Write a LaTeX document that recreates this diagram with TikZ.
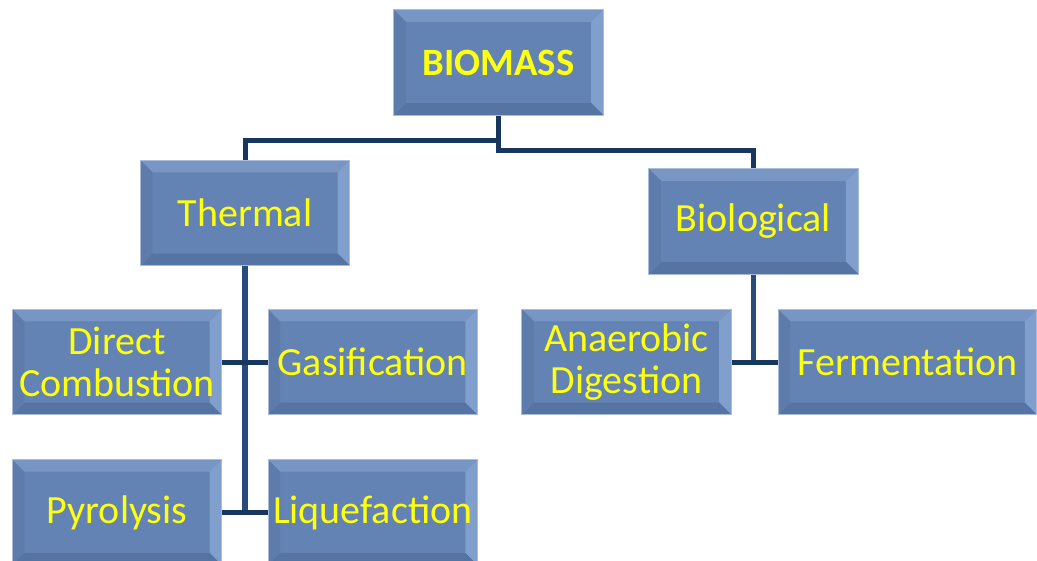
\documentclass[tikz,border=0pt]{standalone}
\usepackage{fontspec}
\setmainfont{Carlito}
\usepackage{tikz}
\usetikzlibrary{positioning}
\definecolor{tilefill}{HTML}{6283B3}
\definecolor{tiletop}{HTML}{7896C4}
\definecolor{tileright}{HTML}{819FCC}
\definecolor{tilebottom}{HTML}{5674A3}
\definecolor{tileleft}{HTML}{5D7CAB}
\definecolor{tileedge}{HTML}{A9BDDA}
\definecolor{labelyellow}{HTML}{FFFF10}
\definecolor{trunkblue}{HTML}{17375E}
\definecolor{branchblue}{HTML}{284B7D}

\begin{document}
\begin{tikzpicture}[x=0.75pt, y=-0.75pt, node distance=33pt and 34pt,
  tile/.style={draw=tileedge, line width=0.8pt, fill=tilefill,
               minimum width=157pt, minimum height=79pt, inner sep=2pt,
               align=center, text=labelyellow,
               font=\fontsize{30}{32}\selectfont,
               path picture={
                 \coordinate (nw) at (path picture bounding box.north west);
                 \coordinate (ne) at (path picture bounding box.north east);
                 \coordinate (sw) at (path picture bounding box.south west);
                 \coordinate (se) at (path picture bounding box.south east);
                 \fill[tiletop] (nw) -- (ne) -- ([shift={(-9pt,-9pt)}]ne) -- ([shift={(9pt,-9pt)}]nw) -- cycle;
                 \fill[tileright] (ne) -- (se) -- ([shift={(-9pt,9pt)}]se) -- ([shift={(-9pt,-9pt)}]ne) -- cycle;
                 \fill[tilebottom] (se) -- (sw) -- ([shift={(9pt,9pt)}]sw) -- ([shift={(-9pt,9pt)}]se) -- cycle;
                 \fill[tileleft] (sw) -- (nw) -- ([shift={(9pt,-9pt)}]nw) -- ([shift={(9pt,9pt)}]sw) -- cycle;
               }},
  trunk/.style={draw=trunkblue, line width=3.75pt},
  branch/.style={draw=branchblue, line width=4.2pt}]
  \useasboundingbox[fill=white] (0,0) rectangle (1037,560);

  % top levels
  \node[tile, font=\fontsize{29}{32}\selectfont\bfseries] (biomass) at (498.5,62.5) {BIOMASS};
  \node[tile] (thermal) at (245,213) {Thermal};
  \node[tile] (biological) at (753.5,221.5) {Biological};

  % thermal routes
  \node[tile] (dcomb) at (117,362) {Direct\\Combustion};
  \node[tile, right=of dcomb] (gasification) {Gasification};
  \node[tile, below=of dcomb] (pyrolysis) {Pyrolysis};
  \node[tile, right=of pyrolysis] (liquefaction) {Liquefaction};

  % biological routes
  \node[tile] (anaerobic) at (626.5,362) {Anaerobic\\Digestion};
  \node[tile, right=34.5pt of anaerobic, minimum width=194pt] (fermentation) {Fermentation};

  % connectors
  \coordinate (split) at ([yshift=-18.75pt]biomass.south);
  \draw[trunk] (thermal.north) |- (split) -- (biomass.south);
  \draw[trunk] (biomass.south) -- ++(0,35) -| (biological.north);
  \draw[branch] (thermal.south) -- (thermal.south |- pyrolysis.east);
  \draw[trunk] (dcomb.east) -- (gasification.west);
  \draw[trunk] (pyrolysis.east) -- (liquefaction.west);
  \draw[branch] (biological.south) -- (biological.south |- anaerobic.east);
  \draw[trunk] (anaerobic.east) -- (fermentation.west);
\end{tikzpicture}
\end{document}
